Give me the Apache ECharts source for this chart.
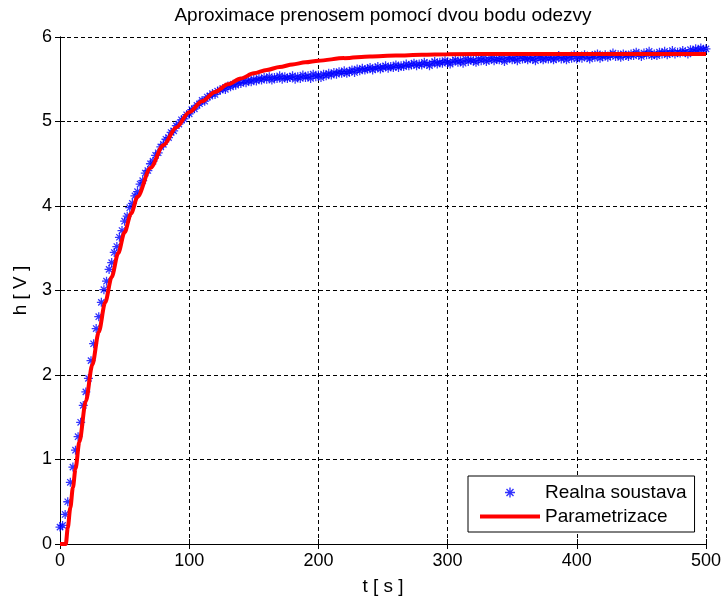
<!DOCTYPE html>
<html>
<head>
<meta charset="utf-8">
<script src="https://cdn.jsdelivr.net/npm/echarts@6/dist/echarts.min.js"></script>
<style>html,body{margin:0;padding:0;background:#fff;}#c{width:724px;height:601px;}</style>
</head>
<body>
<div id="c"></div>
<script>
// ---- data ----
var titleText = 'Aproximace prenosem pomocí dvou bodu odezvy';
var xName = 't [ s ]';
var yName = 'h [ V ]';
var seriesNames = ['Realna soustava', 'Parametrizace'];
var xTicks = [0, 100, 200, 300, 400, 500];
var yTicks = [0, 1, 2, 3, 4, 5, 6];

// measured response, sampled every 2 s from t = 0
var sampleStep = 2;
var measured = [
  0.20, 0.22, 0.35, 0.50, 0.73, 0.91, 1.11, 1.27, 1.44, 1.64,
  1.80, 1.96, 2.17, 2.37, 2.55, 2.69, 2.86, 3.01, 3.11, 3.25,
  3.33, 3.45, 3.52, 3.63, 3.71, 3.82, 3.88, 3.98, 4.03, 4.12,
  4.17, 4.26, 4.30, 4.39, 4.42, 4.50, 4.53, 4.60, 4.63, 4.70,
  4.73, 4.79, 4.81, 4.87, 4.89, 4.95, 4.97, 5.02, 5.03, 5.08,
  5.09, 5.14, 5.15, 5.19, 5.21, 5.25, 5.24, 5.29, 5.30, 5.33,
  5.32, 5.36, 5.37, 5.39, 5.38, 5.42, 5.41, 5.44, 5.43, 5.46,
  5.45, 5.48, 5.46, 5.49, 5.47, 5.50, 5.48, 5.51, 5.49, 5.52,
  5.50, 5.53, 5.49, 5.52, 5.51, 5.54, 5.50, 5.53, 5.51, 5.52,
  5.54, 5.50, 5.53, 5.51, 5.55, 5.52, 5.54, 5.51, 5.56, 5.53,
  5.55, 5.52, 5.56, 5.54, 5.57, 5.55, 5.58, 5.56, 5.59, 5.57,
  5.60, 5.57, 5.59, 5.61, 5.58, 5.62, 5.60, 5.63, 5.61, 5.62,
  5.64, 5.61, 5.63, 5.65, 5.62, 5.64, 5.66, 5.63, 5.65, 5.64,
  5.67, 5.64, 5.66, 5.65, 5.68, 5.66, 5.67, 5.69, 5.66, 5.68,
  5.67, 5.70, 5.68, 5.66, 5.69, 5.71, 5.68, 5.70, 5.69, 5.72,
  5.70, 5.68, 5.71, 5.73, 5.70, 5.72, 5.69, 5.74, 5.71, 5.73,
  5.72, 5.70, 5.74, 5.72, 5.75, 5.71, 5.73, 5.76, 5.72, 5.74,
  5.73, 5.75, 5.71, 5.74, 5.76, 5.73, 5.75, 5.72, 5.77, 5.74,
  5.75, 5.73, 5.76, 5.74, 5.72, 5.77, 5.75, 5.73, 5.76, 5.74,
  5.76, 5.73, 5.75, 5.78, 5.74, 5.76, 5.73, 5.77, 5.75, 5.79,
  5.74, 5.77, 5.75, 5.79, 5.76, 5.74, 5.78, 5.76, 5.80, 5.75,
  5.77, 5.79, 5.76, 5.78, 5.81, 5.77, 5.79, 5.76, 5.80, 5.78,
  5.77, 5.80, 5.78, 5.82, 5.79, 5.77, 5.81, 5.79, 5.83, 5.78,
  5.80, 5.78, 5.82, 5.80, 5.83, 5.79, 5.81, 5.84, 5.80, 5.82,
  5.81, 5.84, 5.82, 5.80, 5.85, 5.83, 5.86, 5.84, 5.87, 5.85,
  5.86
];

// model response (time, value)
var modelT = [0, 4.5, 6, 8, 10, 12, 15, 20, 25, 30, 35, 40, 45, 50, 55, 60, 70, 80, 90, 100,
  110, 120, 130, 140, 150, 160, 170, 180, 190, 200, 220, 240, 260, 280, 300, 350, 400, 450, 500];
var modelH = [0, 0, 0.19, 0.43, 0.67, 0.89, 1.21, 1.69, 2.12, 2.51, 2.86, 3.16, 3.44, 3.69, 3.91, 4.11, 4.45, 4.72, 4.93, 5.11,
  5.24, 5.35, 5.44, 5.51, 5.57, 5.61, 5.645, 5.675, 5.70, 5.72, 5.75, 5.77, 5.78, 5.79, 5.795, 5.80, 5.80, 5.80, 5.80];

// ---- chart ----
var FONT = '"Liberation Sans", Arial, Helvetica, sans-serif';
var star = 'path://M0 43L100 43L100 57L0 57Z M43 0L57 0L57 100L43 100Z M10 20L20 10L90 80L80 90Z M80 10L90 20L20 90L10 80Z';
var lineIcon = 'path://M0 0L100 0L100 6.5L0 6.5Z';

var measuredData = measured.map(function (v, i) { return [i * sampleStep, v]; });
var modelData = modelT.map(function (t, i) { return [t, modelH[i]]; });

var chart = echarts.init(document.getElementById('c'), null, {renderer: 'canvas'});
var axisCommon = {
  axisLine: {show: true, lineStyle: {color: '#000', width: 1}},
  axisTick: {show: true, inside: true, length: 5, lineStyle: {color: '#000'}},
  axisLabel: {color: '#000', fontSize: 18, fontFamily: FONT, margin: 8},
  splitLine: {show: true, lineStyle: {color: '#000', width: 1, type: [4, 3]}}
};
chart.setOption({
  backgroundColor: '#fff',
  animation: false,
  title: {
    text: titleText, left: 378, top: 1, textAlign: 'center',
    textStyle: {fontSize: 19, fontWeight: 'normal', color: '#000', fontFamily: FONT}
  },
  grid: {left: 60, right: 18, top: 37, bottom: 56, containLabel: false},
  legend: {
    orient: 'vertical', left: 468, top: 476,
    padding: [7, 8, 6, 12], itemGap: 5, itemWidth: 60, itemHeight: 10,
    backgroundColor: '#fff', borderColor: '#000', borderWidth: 1, borderRadius: 0,
    textStyle: {fontSize: 19, color: '#000', fontFamily: FONT},
    data: [
      {name: seriesNames[0], icon: star},
      {name: seriesNames[1], icon: lineIcon, itemStyle: {color: '#ff0000'}}
    ]
  },
  xAxis: [
    Object.assign({}, axisCommon, {
      type: 'value', min: xTicks[0], max: xTicks[xTicks.length - 1], interval: xTicks[1] - xTicks[0],
      name: xName, nameLocation: 'middle', nameGap: 33,
      nameTextStyle: {fontSize: 19, color: '#000', fontFamily: FONT}
    }),
    {
      type: 'value', position: 'top', min: xTicks[0], max: xTicks[xTicks.length - 1], interval: xTicks[1] - xTicks[0],
      axisLine: {show: true, lineStyle: {color: '#000', width: 1}},
      axisTick: {show: true, inside: true, length: 5, lineStyle: {color: '#000'}},
      axisLabel: {show: false}, splitLine: {show: false}
    }
  ],
  yAxis: [
    Object.assign({}, axisCommon, {
      type: 'value', min: yTicks[0], max: yTicks[yTicks.length - 1], interval: yTicks[1] - yTicks[0],
      name: yName, nameLocation: 'middle', nameGap: 30,
      nameTextStyle: {fontSize: 19, color: '#000', fontFamily: FONT}
    }),
    {
      type: 'value', position: 'right', min: yTicks[0], max: yTicks[yTicks.length - 1], interval: yTicks[1] - yTicks[0],
      axisLine: {show: true, lineStyle: {color: '#000', width: 1}},
      axisTick: {show: true, inside: true, length: 5, lineStyle: {color: '#000'}},
      axisLabel: {show: false}, splitLine: {show: false}
    }
  ],
  series: [
    {
      name: seriesNames[0], type: 'scatter', xAxisIndex: 0, yAxisIndex: 0,
      symbol: star, symbolSize: 9,
      itemStyle: {color: '#0000ff'},
      data: measuredData, z: 2
    },
    {
      name: seriesNames[1], type: 'line', xAxisIndex: 0, yAxisIndex: 0,
      symbol: 'none', smooth: 0.3, smoothMonotone: 'x',
      lineStyle: {color: '#ff0000', width: 4},
      itemStyle: {color: '#ff0000'},
      data: modelData, z: 3
    }
  ]
});
</script>
</body>
</html>
